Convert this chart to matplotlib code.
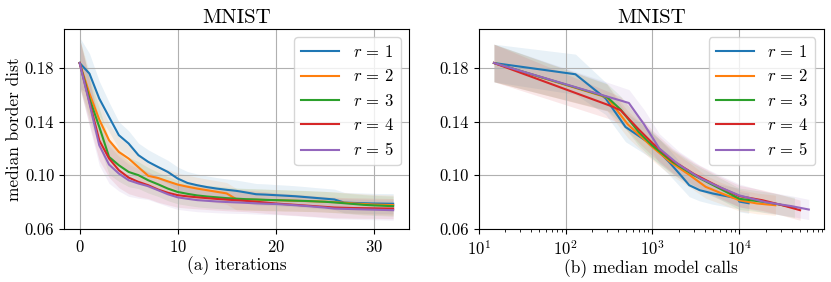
import numpy as np
import matplotlib
matplotlib.use('Agg')
import matplotlib.pyplot as plt

plt.rcParams['font.family'] = 'serif'
plt.rcParams['font.serif'] = ['cmr10']
plt.rcParams['mathtext.fontset'] = 'cm'
plt.rcParams['axes.formatter.use_mathtext'] = True

# (a) median border dist per iteration
iters = list(range(33))
dist_iter = {
    1: [0.1837, 0.1758, 0.1572, 0.1435, 0.1299, 0.1237, 0.1150, 0.1100, 0.1062, 0.1025, 0.0976,
        0.0943, 0.0926, 0.0912, 0.0901, 0.0892, 0.0884, 0.0872, 0.0859, 0.0856, 0.0852, 0.0848,
        0.0844, 0.0838, 0.0832, 0.0826, 0.0820, 0.0797, 0.0794, 0.0792, 0.0790, 0.0789, 0.0788],
    2: [0.1837, 0.1609, 0.1416, 0.1261, 0.1174, 0.1125, 0.1060, 0.0996, 0.0980, 0.0955, 0.0931,
        0.0915, 0.0901, 0.0889, 0.0877, 0.0865, 0.0822, 0.0820, 0.0818, 0.0816, 0.0815, 0.0812,
        0.0810, 0.0808, 0.0806, 0.0803, 0.0800, 0.0796, 0.0790, 0.0786, 0.0782, 0.0780, 0.0778],
    3: [0.1837, 0.1572, 0.1361, 0.1137, 0.1075, 0.1025, 0.1001, 0.0963, 0.0933, 0.0901, 0.0876,
        0.0862, 0.0850, 0.0842, 0.0836, 0.0830, 0.0826, 0.0822, 0.0820, 0.0817, 0.0815, 0.0813,
        0.0811, 0.0809, 0.0806, 0.0803, 0.0798, 0.0792, 0.0786, 0.0780, 0.0776, 0.0773, 0.0770],
    4: [0.1837, 0.1547, 0.1261, 0.1125, 0.1038, 0.0983, 0.0951, 0.0926, 0.0894, 0.0870, 0.0852,
        0.0843, 0.0836, 0.0830, 0.0824, 0.0819, 0.0814, 0.0809, 0.0803, 0.0797, 0.0790, 0.0785,
        0.0780, 0.0775, 0.0770, 0.0765, 0.0760, 0.0758, 0.0756, 0.0755, 0.0754, 0.0753, 0.0752],
    5: [0.1837, 0.1535, 0.1224, 0.1080, 0.1013, 0.0963, 0.0939, 0.0919, 0.0889, 0.0859, 0.0836,
        0.0825, 0.0815, 0.0810, 0.0805, 0.0801, 0.0798, 0.0795, 0.0791, 0.0788, 0.0786, 0.0782,
        0.0777, 0.0772, 0.0766, 0.0760, 0.0752, 0.0750, 0.0748, 0.0746, 0.0744, 0.0742, 0.0740],
}
# half width of shaded band per iteration
spread_iter = {
    1: [0.019, 0.015, 0.013, 0.011, 0.010, 0.0095, 0.009, 0.009, 0.0088, 0.0087, 0.0086,
        0.0085, 0.0084, 0.0083, 0.0082, 0.0081, 0.008, 0.008, 0.008, 0.008, 0.0079, 0.0079,
        0.0078, 0.0078, 0.0077, 0.0077, 0.0077, 0.0076, 0.0076, 0.0076, 0.0075, 0.0075, 0.0075],
    2: [0.018, 0.016, 0.014, 0.012, 0.011, 0.010, 0.0095, 0.009, 0.009, 0.0088, 0.0086,
        0.0085, 0.0084, 0.0083, 0.0082, 0.0081, 0.008, 0.008, 0.008, 0.008, 0.0079, 0.0079,
        0.0078, 0.0078, 0.0077, 0.0077, 0.0077, 0.0076, 0.0076, 0.0076, 0.0075, 0.0075, 0.0075],
    3: [0.018, 0.016, 0.014, 0.013, 0.012, 0.011, 0.010, 0.0095, 0.009, 0.009, 0.0088,
        0.0086, 0.0085, 0.0084, 0.0083, 0.0082, 0.008, 0.008, 0.008, 0.008, 0.0079, 0.0079,
        0.0078, 0.0078, 0.0077, 0.0077, 0.0077, 0.0076, 0.0076, 0.0076, 0.0075, 0.0075, 0.0075],
    4: [0.018, 0.017, 0.015, 0.014, 0.013, 0.012, 0.011, 0.010, 0.0095, 0.009, 0.009,
        0.0088, 0.0086, 0.0085, 0.0084, 0.0083, 0.0082, 0.008, 0.008, 0.008, 0.0079, 0.0079,
        0.0078, 0.0078, 0.0077, 0.0077, 0.0077, 0.0076, 0.0076, 0.0076, 0.0075, 0.0075, 0.0075],
    5: [0.018, 0.017, 0.015, 0.014, 0.013, 0.012, 0.011, 0.010, 0.0095, 0.009, 0.009,
        0.0088, 0.0086, 0.0085, 0.0084, 0.0083, 0.0082, 0.008, 0.008, 0.008, 0.0079, 0.0079,
        0.0078, 0.0078, 0.0077, 0.0077, 0.0077, 0.0076, 0.0076, 0.0076, 0.0075, 0.0075, 0.0075],
}

# (b) median border dist vs median model calls
calls = {
    1: [15, 130, 290, 490, 1000, 1550, 2200, 2650, 3500, 4900, 7700, 9600, 10000, 12800],
    2: [15, 300, 520, 1000, 1600, 2700, 4100, 6000, 10000, 16000, 26000],
    3: [15, 300, 430, 700, 1000, 1700, 3000, 6000, 10000, 20000, 25000, 43000],
    4: [15, 316, 431, 700, 1000, 1700, 3000, 6000, 10000, 18500, 30000, 50000],
    5: [15, 535, 800, 1200, 2000, 3500, 6000, 10000, 20000, 40000, 63000],
}
dist_calls = {
    1: [0.1837, 0.1753, 0.1572, 0.1360, 0.1224, 0.1100, 0.0988, 0.0926, 0.0889, 0.0865, 0.0840, 0.0829, 0.0804, 0.0792],
    2: [0.1837, 0.1580, 0.1380, 0.1210, 0.1100, 0.1000, 0.0914, 0.0870, 0.0814, 0.0790, 0.0777],
    3: [0.1837, 0.1584, 0.1490, 0.1320, 0.1220, 0.1100, 0.1000, 0.0900, 0.0825, 0.0800, 0.0790, 0.0760],
    4: [0.1837, 0.1522, 0.1485, 0.1340, 0.1240, 0.1110, 0.1010, 0.0910, 0.0845, 0.0814, 0.0780, 0.0740],
    5: [0.1837, 0.1539, 0.1380, 0.1200, 0.1080, 0.0980, 0.0910, 0.0850, 0.0800, 0.0770, 0.0745],
}
spread_calls = {
    1: [0.014, 0.015, 0.012, 0.011, 0.010, 0.0095, 0.009, 0.0085, 0.008, 0.008, 0.0078, 0.0077, 0.0076, 0.0075],
    2: [0.014, 0.010, 0.010, 0.010, 0.0095, 0.009, 0.0085, 0.008, 0.008, 0.0077, 0.0075],
    3: [0.014, 0.010, 0.010, 0.010, 0.0095, 0.009, 0.0085, 0.008, 0.008, 0.0077, 0.0076, 0.0075],
    4: [0.014, 0.010, 0.010, 0.010, 0.0095, 0.009, 0.0085, 0.008, 0.008, 0.0077, 0.0076, 0.0075],
    5: [0.014, 0.010, 0.011, 0.011, 0.010, 0.0095, 0.009, 0.0085, 0.008, 0.0077, 0.0075],
}

rs = [1, 2, 3, 4, 5]
colors = ['tab:blue', 'tab:orange', 'tab:green', 'tab:red', 'tab:purple']

fig = plt.figure(figsize=(8.31, 2.82), dpi=100)
ax0 = fig.add_axes([0.077, 0.188, 0.415, 0.709])
ax1 = fig.add_axes([0.576, 0.188, 0.415, 0.709])

for r, c in zip(rs, colors):
    y = np.array(dist_iter[r])
    s = np.array(spread_iter[r])
    ax0.fill_between(iters, y - s, y + s, color=c, alpha=0.1, linewidth=0)
    ax0.plot(iters, y, color=c, lw=1.5, label=r'$r\,=\,%d$' % r)

    y = np.array(dist_calls[r])
    s = np.array(spread_calls[r])
    ax1.fill_between(calls[r], y - s, y + s, color=c, alpha=0.1, linewidth=0)
    ax1.plot(calls[r], y, color=c, lw=1.5, label=r'$r\,=\,%d$' % r)

for ax in [ax0, ax1]:
    ax.set_ylim(0.06, 0.209)
    ax.set_yticks([0.06, 0.10, 0.14, 0.18])
    ax.set_yticklabels(['0.06', '0.10', '0.14', '0.18'])
    ax.grid(True, color='#b0b0b0', lw=0.8)
    ax.set_title('MNIST', fontsize=15, pad=4)
    ax.tick_params(labelsize=12)
    ax.legend(loc='upper right', fontsize=12, handlelength=2.3, borderaxespad=0.5)

ax0.set_xticks([0, 10, 20, 30])
ax0.set_xlabel('(a) iterations', fontsize=12.5, labelpad=1)
ax0.set_ylabel('median border dist', fontsize=12.5, labelpad=2)

ax1.set_xscale('log')
ax1.set_xlim(10, 93000)
ax1.set_xlabel('(b) median model calls', fontsize=12.5, labelpad=1)

fig.savefig('out.png', dpi=100)
